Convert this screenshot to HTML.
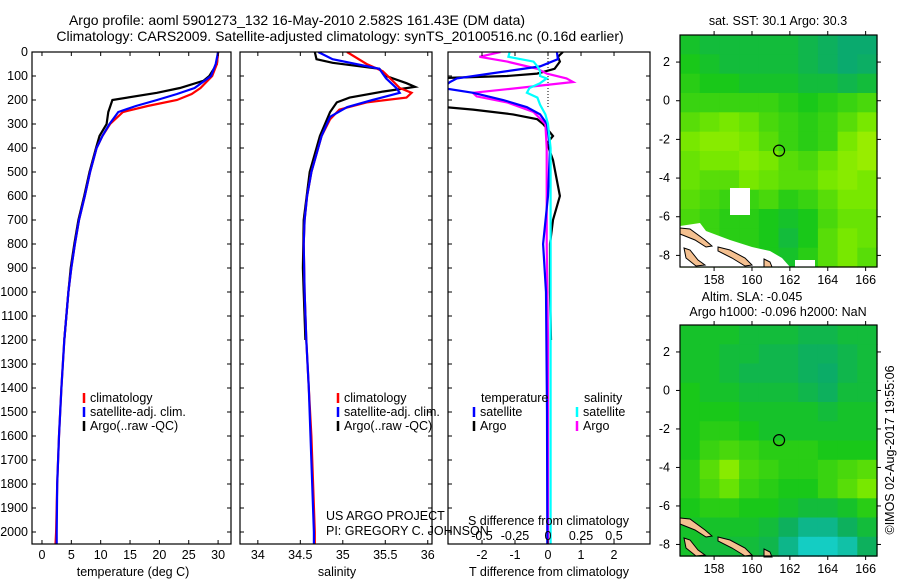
<!DOCTYPE html>
<html><head><meta charset="utf-8"><style>
html,body{margin:0;padding:0;background:#fff}
svg{display:block;font-family:"Liberation Sans",sans-serif}
</style></head><body>
<svg id="chart" width="900" height="580" viewBox="0 0 900 580" xmlns="http://www.w3.org/2000/svg">
<rect width="900" height="580" fill="#fff"/>
<text x="297" y="25" font-size="14" text-anchor="middle">Argo profile: aoml 5901273_132 16-May-2010 2.582S 161.43E (DM data)</text>
<text x="340" y="41" font-size="14" text-anchor="middle">Climatology: CARS2009. Satellite-adjusted climatology: synTS_20100516.nc (0.16d earlier)</text>
<g id="g"></g>
<text x="778" y="25" font-size="12.5" text-anchor="middle">sat. SST: 30.1  Argo: 30.3</text>
<text x="752" y="301" font-size="12.5" text-anchor="middle">Altim. SLA: -0.045</text>
<text x="778" y="316" font-size="12.5" text-anchor="middle">Argo h1000: -0.096 h2000: NaN</text>
<text transform="translate(894,450) rotate(-90)" font-size="12.5" text-anchor="middle">©IMOS 02-Aug-2017 19:55:06</text>
<text x="326" y="520" font-size="12.5">US ARGO PROJECT</text>
<text x="326" y="535" font-size="12.5">PI: GREGORY C. JOHNSON</text>
<text x="468" y="525" font-size="12.5">S difference from climatology</text>
<text x="133" y="576" font-size="12.5" text-anchor="middle">temperature (deg C)</text>
<text x="337" y="576" font-size="12.5" text-anchor="middle">salinity</text>
<text x="549" y="576" font-size="12.5" text-anchor="middle">T difference from climatology</text>
</svg>
<script>
// ---- data ----
const depthTicks=[0,100,200,300,400,500,600,700,800,900,1000,1100,1200,1300,1400,1500,1600,1700,1800,1900,2000];
const tempTicks=[0,5,10,15,20,25,30];
const salTicks=[34,34.5,35,35.5,36];
const salTickLabels=["34","34.5","35","35.5","36"];
const tdTicks=[-2,-1,0,1,2];
const sdTicks=[-0.5,-0.25,0,0.25,0.5];
const sdTickLabels=["-0.5","-0.25","0","0.25","0.5"];

const tClimD=[0,50,100,150,175,200,225,250,300,350,400,500,600,700,800,900,1000,1200,1400,1600,1800,2000,2050];
const tClim=[30,29.8,29,27,25.5,23,18,13.8,11.6,10.3,9.3,8.2,7.3,6.3,5.6,5,4.5,3.8,3.3,2.9,2.6,2.4,2.3];
const tSatD=[0,50,100,150,175,200,225,250,300,350,400,500,600,700,800,900,1000,1200,1400,1600,1800,2000,2050];
const tSat=[30,29.6,28.8,26,23,19.6,16,13,11.5,10.3,9.3,8.2,7.3,6.3,5.6,5,4.5,3.8,3.3,2.9,2.6,2.5,2.5];
const tArgoD=[0,50,100,120,150,170,200,250,300,350,400,500,600,700,800,900,1000,1200];
const tArgo=[30,29.8,28.5,27.5,23.5,19.6,12,11.3,11,9.8,9.2,8.1,7.2,6.2,5.5,4.9,4.5,3.8];

const sClimD=[0,50,80,100,150,170,190,210,240,280,350,400,500,600,700,800,1000,1200,1400,1600,1800,2000,2050];
const sClim=[35.05,35.28,35.47,35.53,35.67,35.81,35.75,35.28,34.96,34.85,34.75,34.71,34.63,34.58,34.55,34.54,34.55,34.57,34.6,34.63,34.65,34.67,34.67];
const sSatD=[0,30,70,110,150,170,200,230,270,350,400,500,600,700,800,1000,1200,1400,1600,1800,2000,2050];
const sSat=[34.71,34.88,35.43,35.51,35.63,35.67,35.35,35.05,34.85,34.75,34.71,34.63,34.58,34.55,34.54,34.55,34.57,34.6,34.62,34.64,34.66,34.66];
const sArgoD=[0,30,45,70,100,130,145,165,190,210,250,300,350,400,500,700,900,1000,1200];
const sArgo=[34.67,34.69,34.88,35.43,35.51,35.75,35.85,35.47,35.08,34.93,34.85,34.79,34.73,34.69,34.61,34.54,34.53,34.54,34.56];

const dtArgoD=[0,20,40,70,90,100,110,220,230,240,260,280,300,350,380,450,600,700,800,1000,1200];
const dtArgo=[0.45,0.3,0.36,0.2,-0.33,-1.24,-3.5,-3.5,-3.1,-2.27,-1.06,-0.33,-0.15,0.15,-0.03,0.15,0.36,0.15,0.06,0.06,0.09];
const dtSatD=[0,30,60,90,110,125,150,170,200,230,260,300,400,600,800,1000,1500,2000,2050];
const dtSat=[0.27,0.3,-0.24,-1.76,-2.76,-2.97,-3.2,-2.27,-1.36,-0.64,-0.24,-0.03,0.06,0,-0.15,-0.06,-0.03,-0.02,-0.02];
const dsArgoD=[0,20,40,70,90,110,125,140,155,170,185,210,250,300,400,800,1200,1600,2000,2050];
const dsArgo=[-0.36,-0.52,-0.31,-0.08,-0.01,0.14,0.19,-0.06,-0.31,-0.57,-0.54,-0.31,-0.11,-0.02,-0.01,-0.01,0,0,0,0];
const dsSatD=[0,20,40,60,80,100,110,130,150,170,190,220,260,300,400,800,1200,1600,2000,2050];
const dsSat=[-0.29,-0.3,-0.11,-0.08,-0.06,-0.06,-0.01,-0.06,-0.14,-0.16,-0.08,-0.06,-0.02,0,0.02,0.02,0.02,0.02,0.02,0.02];

const lonTicks=[158,160,162,164,166];
const latTicks=[2,0,-2,-4,-6,-8];
const argoLon=161.43, argoLat=-2.582;
const sstGrid=[
[.35,.3,.3,.3,.3,.3,.25,.2,.15,.15],
[.4,.35,.3,.3,.3,.3,.25,.2,.15,.18],
[.45,.4,.4,.35,.35,.35,.3,.3,.25,.3],
[.5,.5,.5,.5,.5,.45,.4,.45,.5,.55],
[.6,.65,.7,.65,.55,.5,.45,.5,.6,.7],
[.7,.75,.75,.7,.6,.5,.45,.5,.7,.8],
[.65,.7,.7,.75,.7,.6,.55,.65,.75,.8],
[.65,.6,.6,.7,.65,.6,.6,.7,.75,.7],
[.6,.55,.5,.5,.55,.45,.5,.6,.7,.7],
[.55,.5,.45,.45,.4,.35,.4,.55,.65,.65],
[.6,.5,.45,.45,.4,.3,.4,.6,.7,.65],
[.6,.5,.5,.45,.4,.35,.45,.6,.7,.6]];
const slaGrid=[
[.35,.35,.35,.3,.3,.3,.25,.25,.3,.3],
[.35,.35,.3,.3,.25,.25,.2,.2,.25,.3],
[.35,.35,.3,.25,.25,.25,.2,.17,.25,.3],
[.4,.35,.35,.3,.3,.3,.25,.2,.3,.3],
[.4,.4,.4,.35,.35,.35,.35,.3,.35,.35],
[.4,.45,.45,.4,.35,.35,.35,.35,.35,.35],
[.4,.5,.55,.5,.45,.45,.45,.4,.4,.4],
[.45,.6,.75,.55,.5,.45,.45,.5,.55,.6],
[.45,.55,.65,.5,.45,.4,.4,.5,.6,.7],
[.4,.45,.45,.4,.4,.35,.3,.3,.35,.45],
[.35,.35,.35,.35,.3,.2,.1,.1,.2,.3],
[.35,.3,.3,.3,.25,.1,0,0,.05,.2]];

// ---- drawing ----
const NS="http://www.w3.org/2000/svg";
const G=document.getElementById('g');
function mk(tag,attrs,parent){const e=document.createElementNS(NS,tag);for(const k in attrs)e.setAttribute(k,attrs[k]);(parent||G).appendChild(e);return e;}
const Y0=52, Y1=544, DMAX=2050;
const yD=d=>Y0+d*(Y1-Y0)/DMAX;

const panels=[
 {name:'temperature-panel',x0:32,x1:231,v0:-1.7,v1:32.2},
 {name:'salinity-panel',x0:240,x1:432,v0:33.79,v1:36.05},
 {name:'difference-panel',x0:448,x1:650,v0:-3.03,v1:3.09}
];
panels.forEach((p,i)=>{p.x=v=>p.x0+(v-p.v0)*(p.x1-p.x0)/(p.v1-p.v0);
 const cp=mk('clipPath',{id:'cp'+i});
 mk('rect',{x:p.x0,y:Y0,width:p.x1-p.x0,height:Y1-Y0},cp);
});
const sx3=v=>548+v*132;

function line(p,i,ds,vs,color,name,fx){
 const f=fx||p.x;
 const pts=ds.map((d,k)=>f(vs[k]).toFixed(1)+','+yD(d).toFixed(1)).join(' ');
 const e=mk('polyline',{points:pts,fill:'none',stroke:color,'stroke-width':2.2,'clip-path':'url(#cp'+i+')'});
 
 
}
const P=panels;
line(P[0],0,tArgoD,tArgo,'#000','temp-argo-line');
line(P[0],0,tClimD,tClim,'#f00','temp-climatology-line');
line(P[0],0,tSatD,tSat,'#00f','temp-satellite-line');
line(P[1],1,sArgoD,sArgo,'#000','sal-argo-line');
line(P[1],1,sClimD,sClim,'#f00','sal-climatology-line');
line(P[1],1,sSatD,sSat,'#00f','sal-satellite-line');
{const e=mk('line',{x1:548,x2:548,y1:Y0,y2:yD(230),stroke:'#000','stroke-dasharray':'1,2','stroke-width':1});
}
line(P[2],2,dtArgoD,dtArgo,'#000','tdiff-argo-line');
line(P[2],2,dsArgoD,dsArgo,'#f0f','sdiff-argo-line',sx3);
line(P[2],2,dtSatD,dtSat,'#00f','tdiff-satellite-line');
line(P[2],2,dsSatD,dsSat,'#0ff','sdiff-satellite-line',sx3);

function txt(x,y,s,anchor,name,size){const e=mk('text',{x:x,y:y,'font-size':size||12.5,'text-anchor':anchor||'start'});e.textContent=s;
 return e;}

panels.forEach((p,i)=>{
 const r=mk('rect',{x:p.x0,y:Y0,width:p.x1-p.x0,height:Y1-Y0,fill:'none',stroke:'#000','stroke-width':1.2});
 
 depthTicks.forEach(d=>{const y=yD(d);
  mk('line',{x1:p.x0,x2:p.x0+4,y1:y,y2:y,stroke:'#000'});mk('line',{x1:p.x1-4,x2:p.x1,y1:y,y2:y,stroke:'#000'});});
});
depthTicks.forEach(d=>txt(28,yD(d)+4,String(d),'end','depth-tick-label'));
tempTicks.forEach(v=>{const x=P[0].x(v);mk('line',{x1:x,x2:x,y1:Y1,y2:Y1-4,stroke:'#000'});mk('line',{x1:x,x2:x,y1:Y0,y2:Y0+4,stroke:'#000'});txt(x,559,String(v),'middle','temp-tick-label');});
salTicks.forEach((v,k)=>{const x=P[1].x(v);mk('line',{x1:x,x2:x,y1:Y1,y2:Y1-4,stroke:'#000'});mk('line',{x1:x,x2:x,y1:Y0,y2:Y0+4,stroke:'#000'});txt(x,559,salTickLabels[k],'middle','sal-tick-label');});
tdTicks.forEach(v=>{const x=P[2].x(v);mk('line',{x1:x,x2:x,y1:Y1,y2:Y1-4,stroke:'#000'});mk('line',{x1:x,x2:x,y1:Y0,y2:Y0+4,stroke:'#000'});txt(x,559,String(v),'middle','tdiff-tick-label');});
sdTicks.forEach((v,k)=>txt(sx3(v),540,sdTickLabels[k],'middle','sdiff-tick-label'));

function leg(x,y,color,label){mk('line',{x1:x,x2:x,y1:y-9,y2:y+1,stroke:color,'stroke-width':2.5});txt(x+6,y,label,'start','legend-entry');}
[84,338].forEach(x=>{leg(x,402,'#f00','climatology');leg(x,416,'#00f','satellite-adj. clim.');leg(x,430,'#000','Argo(..raw -QC)');});
txt(481,402,'temperature','start','legend-header');txt(584,402,'salinity','start','legend-header');
leg(474,416,'#00f','satellite');leg(474,430,'#000','Argo');
leg(577,416,'#0ff','satellite');leg(577,430,'#f0f','Argo');

function col(v){const st=[[0,[20,205,195]],[0.15,[10,170,110]],[0.4,[25,200,25]],[0.7,[120,232,0]],[1,[215,248,0]]];
 for(let k=1;k<st.length;k++){if(v<=st[k][0]){const a=st[k-1],b=st[k],t=(v-a[0])/(b[0]-a[0]);return 'rgb('+a[1].map((c,j)=>Math.round(c+(b[1][j]-c)*t)).join(',')+')';}}return 'rgb(215,248,0)';}
function drawMap(mx0,my0,mx1,my1,grid,name,white){
 const lon0=156.2,lon1=166.6,lat0=3.4,lat1=-8.6;
 const X=l=>mx0+(l-lon0)*(mx1-mx0)/(lon1-lon0), Y=l=>my0+(l-lat0)*(my1-my0)/(lat1-lat0);
 const gg=mk('g',{});
 const nr=grid.length,nc=grid[0].length,cw=(mx1-mx0)/nc,ch=(my1-my0)/nr;
 grid.forEach((row,r)=>row.forEach((v,c)=>{const e=mk('rect',{x:(mx0+c*cw).toFixed(1),y:(my0+r*ch).toFixed(1),width:(cw+0.6).toFixed(1),height:(ch+0.6).toFixed(1),fill:col(v)},gg);
  }));
 const dx=mx0-680,dy=my0-35;
 const tr='translate('+dx+','+dy+')';
 if(white){mk('polygon',{points:'680,226 700,223 706,231 730,240 752,247 770,251 782,258 790,267 680,267',fill:'#fff',transform:tr},gg);
  mk('rect',{x:730,y:188,width:20,height:27,fill:'#fff'},gg);mk('rect',{x:795,y:260,width:20,height:7,fill:'#fff'},gg);}
 mk('polygon',{points:'680,228 690,229 705,240 712,246 706,247 695,240 680,234',fill:'#f4c090',stroke:'#000','stroke-width':1,transform:tr},gg);
 mk('polygon',{points:'718,247 730,250 745,258 752,265 745,266 732,258 718,251',fill:'#f4c090',stroke:'#000','stroke-width':1,transform:tr},gg);
 mk('polygon',{points:'684,248 690,250 698,260 705,265 696,266 686,258',fill:'#f4c090',stroke:'#000','stroke-width':1,transform:tr},gg);
 mk('polygon',{points:'764,259 770,262 772,267 764,267',fill:'#f4c090',stroke:'#000','stroke-width':1,transform:tr},gg);
 mk('rect',{x:mx0,y:my0,width:mx1-mx0,height:my1-my0,fill:'none',stroke:'#000','stroke-width':1.2},gg);
 lonTicks.forEach(l=>{const x=X(l);mk('line',{x1:x,x2:x,y1:my1,y2:my1+4,stroke:'#000'},gg);mk('line',{x1:x,x2:x,y1:my0,y2:my0-4,stroke:'#000'},gg);txt(x,my1+17,String(l),'middle','lon-tick-label');});
 latTicks.forEach(l=>{const y=Y(l);mk('line',{x1:mx0,x2:mx0-4,y1:y,y2:y,stroke:'#000'},gg);mk('line',{x1:mx1,x2:mx1+4,y1:y,y2:y,stroke:'#000'},gg);txt(mx0-10,y+4,String(l),'end','lat-tick-label');});
 const c=mk('circle',{cx:X(argoLon),cy:Y(argoLat),r:5.5,fill:'none',stroke:'#000','stroke-width':1.2},gg);
 
}
drawMap(680,35,877,267,sstGrid,'sst-map',true);
drawMap(680,325,877,556,slaGrid,'sla-map',false);
</script>
</body></html>
